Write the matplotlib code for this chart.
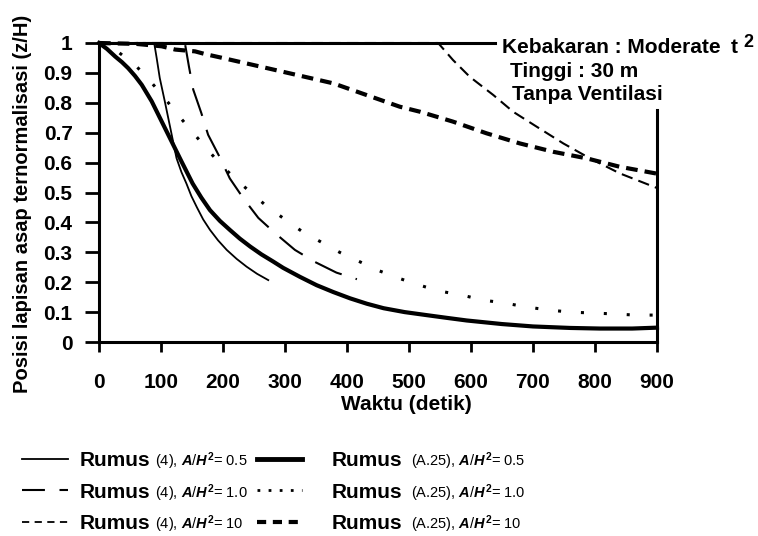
import matplotlib
matplotlib.use("Agg")
import matplotlib.pyplot as plt
from matplotlib.lines import Line2D
from matplotlib.transforms import IdentityTransform

# data
# Rumus (4), A/H^2 = 0.5
t_r4_05 = [0, 89, 93, 98, 106, 115, 125, 133, 141, 149, 158, 168, 179, 192, 206, 222, 238, 255, 273]
z_r4_05 = [1.0, 1.0, 0.95, 0.883, 0.806, 0.716, 0.615, 0.568, 0.53, 0.488, 0.45, 0.41, 0.375, 0.34, 0.308, 0.278, 0.252, 0.228, 0.207]
# Rumus (4), A/H^2 = 1.0
t_r4_10 = [0, 137, 139, 145, 152, 165, 176, 194, 211, 233, 257, 284, 316, 348, 383, 416]
z_r4_10 = [1.0, 1.0, 0.994, 0.922, 0.844, 0.766, 0.693, 0.621, 0.547, 0.48, 0.415, 0.364, 0.308, 0.268, 0.232, 0.21]
# Rumus (4), A/H^2 = 10
t_r4_100 = [0, 547, 571, 598, 636, 668, 706, 749, 792, 840, 900]
z_r4_100 = [1.0, 1.0, 0.943, 0.887, 0.826, 0.77, 0.72, 0.664, 0.614, 0.564, 0.515]
# Rumus (A.25), A/H^2 = 0.5
t_a25_05 = [0, 13, 26, 37, 47, 58, 69, 85, 101, 117, 133, 151, 165, 179, 195, 211, 227, 244, 262, 281, 297, 324, 351, 378, 405, 432, 459, 493, 528, 560, 593, 650, 700, 760, 808, 860, 900]
z_a25_05 = [1.0, 0.98, 0.955, 0.936, 0.916, 0.89, 0.86, 0.805, 0.738, 0.671, 0.604, 0.53, 0.483, 0.441, 0.405, 0.375, 0.346, 0.319, 0.293, 0.269, 0.248, 0.218, 0.19, 0.167, 0.146, 0.128, 0.113, 0.1, 0.09, 0.081, 0.072, 0.06, 0.052, 0.047, 0.045, 0.045, 0.048]
# Rumus (A.25), A/H^2 = 1.0
t_a25_10 = [0, 31, 59, 82, 105, 126, 148, 171, 194, 219, 245, 271, 300, 328, 389, 452, 484, 517, 550, 585, 620, 655, 690, 725, 760, 795, 830, 865, 900]
z_a25_10 = [1.0, 0.97, 0.925, 0.874, 0.818, 0.763, 0.709, 0.653, 0.599, 0.547, 0.5, 0.453, 0.41, 0.369, 0.299, 0.238, 0.213, 0.19, 0.17, 0.157, 0.14, 0.13, 0.117, 0.107, 0.10, 0.097, 0.094, 0.09, 0.09]
# Rumus (A.25), A/H^2 = 10
t_a25_100 = [0, 60, 101, 123, 155, 171, 195, 271, 378, 485, 518, 571, 625, 679, 733, 787, 840, 900]
z_a25_100 = [1.0, 0.997, 0.989, 0.978, 0.972, 0.963, 0.952, 0.916, 0.865, 0.787, 0.77, 0.737, 0.698, 0.664, 0.636, 0.614, 0.586, 0.563]

x_ticks = [0, 100, 200, 300, 400, 500, 600, 700, 800, 900]
y_ticks = [0, 0.1, 0.2, 0.3, 0.4, 0.5, 0.6, 0.7, 0.8, 0.9, 1.0]
y_ticklabels = ["0", "0.1", "0.2", "0.3", "0.4", "0.5", "0.6", "0.7", "0.8", "0.9", "1"]

legend_rest = [r"(4), $\mathit{A}$/$\mathit{H}^{\mathrm{2}}$= 0.5",
               r"(4), $\mathit{A}$/$\mathit{H}^{\mathrm{2}}$= 1.0",
               r"(4), $\mathit{A}$/$\mathit{H}^{\mathrm{2}}$= 10",
               r"(A.25), $\mathit{A}$/$\mathit{H}^{\mathrm{2}}$= 0.5",
               r"(A.25), $\mathit{A}$/$\mathit{H}^{\mathrm{2}}$= 1.0",
               r"(A.25), $\mathit{A}$/$\mathit{H}^{\mathrm{2}}$= 10"]

plt.rcParams["font.family"] = ["Liberation Sans", "DejaVu Sans"]
plt.rcParams["font.weight"] = "bold"
plt.rcParams["mathtext.fontset"] = "custom"
plt.rcParams["mathtext.rm"] = "Liberation Sans"
plt.rcParams["mathtext.it"] = "Liberation Sans:italic"

W, H = 758, 536
fig = plt.figure(figsize=(W / 100, H / 100), dpi=100)
ax = fig.add_axes([99 / W, 1 - 342 / H, 558 / W, 299 / H])

k = "black"
ax.plot(t_r4_05, z_r4_05, color=k, lw=1.3, clip_on=False)
ax.plot(t_r4_10, z_r4_10, color=k, lw=1.5, dashes=(14, 7), clip_on=False)
ax.plot(t_r4_100, z_r4_100, color=k, lw=1.5, dashes=(5.5, 3), clip_on=False)
ax.plot(t_a25_05, z_a25_05, color=k, lw=3.0, clip_on=False)
ax.plot(t_a25_10, z_a25_10, color=k, lw=2.2, dashes=(1, 6.5), clip_on=False)
ax.plot(t_a25_100, z_a25_100, color=k, lw=3.0, dashes=(2.8, 1.7), clip_on=False)

ax.set_xlim(0, 900)
ax.set_ylim(0, 1)
for s in ax.spines.values():
    s.set_linewidth(2.2)
ax.spines["top"].set_bounds(0, 638)
ax.spines["right"].set_bounds(0, 0.776)

ax.set_xticks(x_ticks)
ax.set_yticks(y_ticks)
ax.set_yticklabels(y_ticklabels)
ax.tick_params(axis="x", direction="out", length=7.5, width=2, labelsize=15, pad=14.5)
ax.tick_params(axis="y", direction="out", length=10, width=2, labelsize=15, pad=9)
for lab in ax.get_xticklabels() + ax.get_yticklabels():
    lab.set_fontweight("bold")

fig.text(406 / W, 1 - 410 / H, "Waktu (detik)", ha="center", va="baseline", fontsize=15)
fig.text(28 / W, 1 - 204 / H, "Posisi lapisan asap ternormalisasi (z/H)", rotation=90,
         ha="center", va="baseline", rotation_mode="anchor", fontsize=14.5)

fig.text(502 / W, 1 - 53 / H, "Kebakaran : Moderate", va="baseline", fontsize=15)
fig.text(731 / W, 1 - 53 / H, "t", va="baseline", fontsize=15)
fig.text(743 / W, 1 - 47 / H, "2", va="baseline", fontsize=13)
fig.text(510 / W, 1 - 77 / H, "Tinggi : 30 m", va="baseline", fontsize=15)
fig.text(512 / W, 1 - 100 / H, "Tanpa Ventilasi", va="baseline", fontsize=15)

# legenda dua kolom
h1 = [Line2D([], [], color=k, lw=1.3),
      Line2D([], [], color=k, lw=1.5, dashes=(11, 7)),
      Line2D([], [], color=k, lw=1.3, dashes=(4, 3))]
h2 = [Line2D([], [], color=k, lw=3.5),
      Line2D([], [], color=k, lw=2, dashes=(1, 3)),
      Line2D([], [], color=k, lw=3, dashes=(2.2, 1.6))]
prop = dict(weight="bold", size=15)
leg1 = fig.legend(h1, ["Rumus"] * 3, loc="upper left", bbox_to_anchor=(22 / W, 1 - 451 / H),
                  frameon=False, borderpad=0, borderaxespad=0, handlelength=2.2,
                  handletextpad=0.58, labelspacing=0.6, prop=prop)
leg2 = fig.legend(h2, ["Rumus"] * 3, loc="upper left", bbox_to_anchor=(257 / W, 1 - 451 / H),
                  frameon=False, borderpad=0, borderaxespad=0, handlelength=2.15,
                  handletextpad=1.44, labelspacing=0.6, prop=prop)

fig.canvas.draw()
texts = leg1.get_texts() + leg2.get_texts()
for i, (t, rest) in enumerate(zip(texts, legend_rest)):
    bb = t.get_window_extent()
    x0, y0 = t.get_transform().transform(t.get_position())
    gap = 4 if i < 3 else 9
    fig.text(bb.x1 + gap, y0, rest, transform=IdentityTransform(), va="baseline",
             fontsize=10.5, fontweight="normal")

fig.savefig("out.png", dpi=100)
